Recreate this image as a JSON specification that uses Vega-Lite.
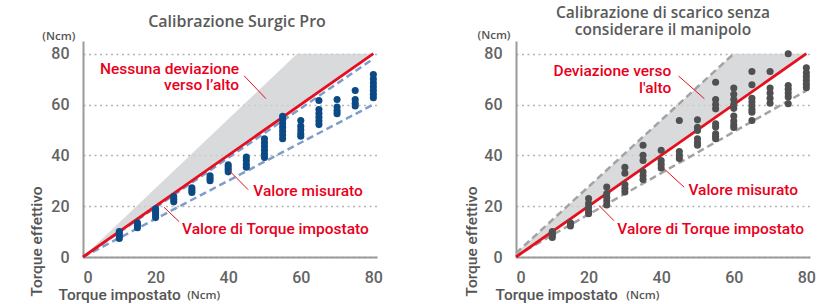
{
  "$schema": "https://vega.github.io/schema/vega-lite/v6.json",
  "padding": {"left": 29, "top": 6, "right": 5, "bottom": 2},
  "bounds": "flush",
  "spacing": 139,
  "config": {
    "view": {"stroke": null},
    "font": "Roboto",
    "axis": {
      "ticks": false,
      "labelFontSize": 16,
      "labelFontWeight": 500,
      "labelColor": "#636363",
      "labelFont": "Roboto",
      "domainColor": "#9a9a9a",
      "domainWidth": 2,
      "titleFont": "Roboto",
      "titleFontWeight": 500,
      "titleFontSize": 15.5,
      "titleColor": "#555555"
    }
  },
  "datasets": {
    "leftArea": [{"x": 0, "y": 0, "y2": 0}, {"x": 59, "y": 59, "y2": 80}, {"x": 80, "y": 80, "y2": 80}],
    "rightArea": [{"x": 0, "y": 0, "y2": 1.5}, {"x": 60, "y": 60, "y2": 80}, {"x": 80, "y": 80, "y2": 80}],
    "leftRef": [{"line": "a", "x": 0, "y": 0}, {"line": "a", "x": 80, "y": 78}, {"line": "b", "x": 0, "y": 0}, {"line": "b", "x": 80, "y": 60}],
    "rightRef": [{"line": "a", "x": 0, "y": 1.5}, {"line": "a", "x": 60, "y": 80}, {"line": "b", "x": 0, "y": 0.5}, {"line": "b", "x": 80, "y": 65.5}],
    "setLine": [{"x": 0, "y": 0}, {"x": 80, "y": 80}],
    "leftPts": [
      {"x": 10, "y": 7.3}, {"x": 10, "y": 8.3}, {"x": 10, "y": 9.3}, {"x": 10, "y": 10},
      {"x": 15, "y": 11.5}, {"x": 15, "y": 12.5}, {"x": 15, "y": 13.5},
      {"x": 20, "y": 15.5}, {"x": 20, "y": 16.5}, {"x": 20, "y": 17.5}, {"x": 20, "y": 18.5}, {"x": 20, "y": 19},
      {"x": 25, "y": 21.7}, {"x": 25, "y": 22.7}, {"x": 25, "y": 23.8},
      {"x": 30, "y": 25.4}, {"x": 30, "y": 26.3}, {"x": 30, "y": 27.2},
      {"x": 35, "y": 30}, {"x": 35, "y": 31}, {"x": 35, "y": 32},
      {"x": 40, "y": 33.5}, {"x": 40, "y": 34.5}, {"x": 40, "y": 35.5}, {"x": 40, "y": 36.3},
      {"x": 45, "y": 35.3}, {"x": 45, "y": 36.5}, {"x": 45, "y": 38}, {"x": 45, "y": 39.3},
      {"x": 50, "y": 39.2}, {"x": 50, "y": 40.5}, {"x": 50, "y": 42}, {"x": 50, "y": 43.5}, {"x": 50, "y": 45}, {"x": 50, "y": 46.5},
      {"x": 55, "y": 46.5}, {"x": 55, "y": 48}, {"x": 55, "y": 49.5}, {"x": 55, "y": 51}, {"x": 55, "y": 52.5}, {"x": 55, "y": 54}, {"x": 55, "y": 55.4},
      {"x": 60, "y": 47.5}, {"x": 60, "y": 48.5}, {"x": 60, "y": 50}, {"x": 60, "y": 51.5}, {"x": 60, "y": 53.7},
      {"x": 65, "y": 52.1}, {"x": 65, "y": 53.5}, {"x": 65, "y": 55}, {"x": 65, "y": 56.5}, {"x": 65, "y": 58}, {"x": 65, "y": 61.6},
      {"x": 70, "y": 56.4}, {"x": 70, "y": 57.5}, {"x": 70, "y": 59}, {"x": 70, "y": 62},
      {"x": 75, "y": 59.4}, {"x": 75, "y": 60.5}, {"x": 75, "y": 62}, {"x": 75, "y": 65.5},
      {"x": 80, "y": 62.7}, {"x": 80, "y": 64}, {"x": 80, "y": 65.5}, {"x": 80, "y": 67}, {"x": 80, "y": 68.5}, {"x": 80, "y": 70}, {"x": 80, "y": 71.8}
    ],
    "rightPts": [
      {"x": 10, "y": 7.7}, {"x": 10, "y": 8.5}, {"x": 10, "y": 9.3}, {"x": 10, "y": 10},
      {"x": 15, "y": 12.2}, {"x": 15, "y": 13}, {"x": 15, "y": 13.5},
      {"x": 20, "y": 17}, {"x": 20, "y": 18}, {"x": 20, "y": 19.5}, {"x": 20, "y": 21}, {"x": 20, "y": 23},
      {"x": 25, "y": 20.5}, {"x": 25, "y": 22}, {"x": 25, "y": 23.5}, {"x": 25, "y": 25}, {"x": 25, "y": 27.5},
      {"x": 30, "y": 25.6}, {"x": 30, "y": 27}, {"x": 30, "y": 28.5}, {"x": 30, "y": 33}, {"x": 30, "y": 35.3},
      {"x": 35, "y": 30.5}, {"x": 35, "y": 32}, {"x": 35, "y": 33.5}, {"x": 35, "y": 38}, {"x": 35, "y": 40}, {"x": 35, "y": 44},
      {"x": 40, "y": 35}, {"x": 40, "y": 36.5}, {"x": 40, "y": 38}, {"x": 40, "y": 42},
      {"x": 45, "y": 38.8}, {"x": 45, "y": 40}, {"x": 45, "y": 41.5}, {"x": 45, "y": 53.7},
      {"x": 50, "y": 44}, {"x": 50, "y": 45}, {"x": 50, "y": 46.5}, {"x": 50, "y": 49.8}, {"x": 50, "y": 51}, {"x": 50, "y": 54},
      {"x": 55, "y": 46.5}, {"x": 55, "y": 47.5}, {"x": 55, "y": 48.5}, {"x": 55, "y": 51.2}, {"x": 55, "y": 52.4}, {"x": 55, "y": 58.3}, {"x": 55, "y": 60}, {"x": 55, "y": 62}, {"x": 55, "y": 68.8},
      {"x": 60, "y": 51}, {"x": 60, "y": 52}, {"x": 60, "y": 53.5}, {"x": 60, "y": 55.5}, {"x": 60, "y": 58.5}, {"x": 60, "y": 60}, {"x": 60, "y": 62}, {"x": 60, "y": 64}, {"x": 60, "y": 66.5},
      {"x": 65, "y": 53.7}, {"x": 65, "y": 57}, {"x": 65, "y": 58}, {"x": 65, "y": 59.5}, {"x": 65, "y": 61}, {"x": 65, "y": 62.5}, {"x": 65, "y": 67.8}, {"x": 65, "y": 73},
      {"x": 70, "y": 60.5}, {"x": 70, "y": 62.5}, {"x": 70, "y": 64.5}, {"x": 70, "y": 66.5}, {"x": 70, "y": 73},
      {"x": 75, "y": 60.3}, {"x": 75, "y": 63}, {"x": 75, "y": 64.5}, {"x": 75, "y": 66}, {"x": 75, "y": 67.5}, {"x": 75, "y": 80},
      {"x": 80, "y": 66.6}, {"x": 80, "y": 68}, {"x": 80, "y": 69.5}, {"x": 80, "y": 71}, {"x": 80, "y": 72.5}, {"x": 80, "y": 74.5}
    ],
    "leftLeaders": [{"x": 44.4, "y": 71.3, "x2": 50.4, "y2": 62.3}, {"x": 45.5, "y": 26.5, "x2": 40.3, "y2": 34.0}, {"x": 26.5, "y": 13.9, "x2": 22.3, "y2": 19.6}],
    "rightLeaders": [{"x": 44.8, "y": 71.2, "x2": 51.9, "y2": 62.3}, {"x": 46.3, "y": 27.5, "x2": 40.8, "y2": 34.7}, {"x": 27.0, "y": 14.3, "x2": 22.9, "y2": 20.2}],
    "leftNotesR": [{"x": 43, "y": 74.1, "label": "Nessuna deviazione"}, {"x": 43, "y": 67.7, "label": "verso l’alto"}],
    "leftNotesL": [{"x": 46.9, "y": 26, "label": "Valore misurato"}, {"x": 27.3, "y": 11, "label": "Valore di Torque impostato"}],
    "rightNotesR": [{"x": 42.8, "y": 73.3, "label": "Deviazione verso"}, {"x": 42.8, "y": 66.6, "label": "l'alto"}],
    "rightNotesL": [{"x": 47.5, "y": 26.4, "label": "Valore misurato"}, {"x": 27.9, "y": 11, "label": "Valore di Torque impostato"}],
    "leftUnits": [{"x": -11.2, "y": 86.5, "label": "(Ncm)"}, {"x": 28.7, "y": -15.4, "label": "(Ncm)"}],
    "rightUnits": [{"x": -10.6, "y": 86.8, "label": "(Ncm)"}, {"x": 30.4, "y": -15.4, "label": "(Ncm)"}]
  },
  "hconcat": [
    {
      "title": {"text": "Calibrazione Surgic Pro", "fontSize": 16, "color": "#5a5a5a", "font": "Open Sans", "fontWeight": 600, "frame": "group", "anchor": "middle", "offset": 1, "dx": 7},
      "width": 294,
      "height": 216,
      "encoding": {
        "x": {"field": "x", "type": "quantitative", "scale": {"domain": [0, 81], "nice": false},
              "axis": {"values": [0, 20, 40, 60, 80], "title": "Torque impostato", "grid": false, "labelPadding": 12,
                       "titleX": -25, "titleY": 37, "titleAlign": "left", "titleBaseline": "middle"}},
        "y": {"field": "y", "type": "quantitative", "scale": {"domain": [0, 85], "nice": false},
              "axis": {"values": [0, 20, 40, 60, 80], "title": "Torque effettivo", "grid": true, "gridDash": [2, 3.5], "gridColor": "#b3b3b3", "gridWidth": 1.6,
                       "labelPadding": 14, "titleAngle": 270, "titleX": -47, "titleY": 255, "titleAlign": "left", "titleBaseline": "middle"}}
      },
      "layer": [
        {"data": {"name": "leftArea"}, "mark": {"type": "area", "color": "#cfd1d2", "opacity": 0.8}, "encoding": {"y2": {"field": "y2"}}},
        {"data": {"name": "leftRef"}, "mark": {"type": "line", "color": "#7f9dcc", "strokeWidth": 2.5, "strokeDash": [7, 4]}, "encoding": {"detail": {"field": "line"}}},
        {"data": {"name": "setLine"}, "mark": {"type": "line", "color": "#e50f1e", "strokeWidth": 2.8}, "encoding": {}},
        {"data": {"name": "leftPts"}, "mark": {"type": "circle", "size": 50, "color": "#0c4a86", "opacity": 1}, "encoding": {}},
        {"data": {"name": "leftLeaders"}, "mark": {"type": "rule", "color": "#e50f1e", "strokeWidth": 1}, "encoding": {"x2": {"field": "x2"}, "y2": {"field": "y2"}}},
        {"data": {"name": "leftNotesR"}, "mark": {"type": "text", "align": "right", "baseline": "middle", "fontSize": 15.5, "fontWeight": 500, "color": "#e8001c"}, "encoding": {"text": {"field": "label"}}},
        {"data": {"name": "leftNotesL"}, "mark": {"type": "text", "align": "left", "baseline": "middle", "fontSize": 15.5, "fontWeight": 500, "color": "#e8001c"}, "encoding": {"text": {"field": "label"}}},
        {"data": {"name": "leftUnits"}, "mark": {"type": "text", "align": "left", "baseline": "middle", "font": "Open Sans", "fontSize": 11.5, "fontWeight": 600, "color": "#555555"}, "encoding": {"text": {"field": "label"}}}
      ]
    },
    {
      "title": {"text": ["Calibrazione di scarico senza", "considerare il manipolo"], "fontSize": 15.5, "lineHeight": 17, "color": "#5a5a5a", "font": "Open Sans", "fontWeight": 600, "frame": "group", "anchor": "middle", "offset": -8.5},
      "width": 294,
      "height": 216,
      "encoding": {
        "x": {"field": "x", "type": "quantitative", "scale": {"domain": [0, 81], "nice": false},
              "axis": {"values": [0, 20, 40, 60, 80], "title": "Torque impostato", "grid": false, "labelPadding": 12,
                       "titleX": -21, "titleY": 37, "titleAlign": "left", "titleBaseline": "middle"}},
        "y": {"field": "y", "type": "quantitative", "scale": {"domain": [0, 85], "nice": false},
              "axis": {"values": [0, 20, 40, 60, 80], "title": "Torque effettivo", "grid": true, "gridDash": [2, 3.5], "gridColor": "#b3b3b3", "gridWidth": 1.6,
                       "labelPadding": 14, "titleAngle": 270, "titleX": -45, "titleY": 255, "titleAlign": "left", "titleBaseline": "middle"}}
      },
      "layer": [
        {"data": {"name": "rightArea"}, "mark": {"type": "area", "color": "#cfd1d2", "opacity": 0.8}, "encoding": {"y2": {"field": "y2"}}},
        {"data": {"name": "rightRef"}, "mark": {"type": "line", "color": "#a3a3a3", "strokeWidth": 2.5, "strokeDash": [7, 4]}, "encoding": {"detail": {"field": "line"}}},
        {"data": {"name": "setLine"}, "mark": {"type": "line", "color": "#e50f1e", "strokeWidth": 2.8}, "encoding": {}},
        {"data": {"name": "rightPts"}, "mark": {"type": "circle", "size": 50, "color": "#505050", "opacity": 1}, "encoding": {}},
        {"data": {"name": "rightLeaders"}, "mark": {"type": "rule", "color": "#e50f1e", "strokeWidth": 1}, "encoding": {"x2": {"field": "x2"}, "y2": {"field": "y2"}}},
        {"data": {"name": "rightNotesR"}, "mark": {"type": "text", "align": "right", "baseline": "middle", "fontSize": 15.5, "fontWeight": 500, "color": "#e8001c"}, "encoding": {"text": {"field": "label"}}},
        {"data": {"name": "rightNotesL"}, "mark": {"type": "text", "align": "left", "baseline": "middle", "fontSize": 15.5, "fontWeight": 500, "color": "#e8001c"}, "encoding": {"text": {"field": "label"}}},
        {"data": {"name": "rightUnits"}, "mark": {"type": "text", "align": "left", "baseline": "middle", "font": "Open Sans", "fontSize": 11.5, "fontWeight": 600, "color": "#555555"}, "encoding": {"text": {"field": "label"}}}
      ]
    }
  ]
}
